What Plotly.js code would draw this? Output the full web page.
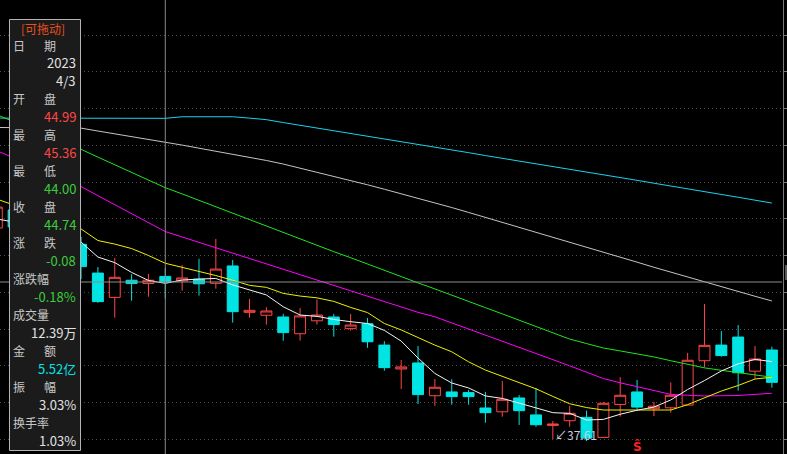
<!DOCTYPE html>
<html><head><meta charset="utf-8">
<script src="https://cdn.plot.ly/plotly-3.0.1.min.js"></script>
<style>html,body{margin:0;padding:0;background:#000;}#chart{width:787px;height:454px;}</style>
</head><body><div id="chart"></div>
<script>
// ---------- data ----------
const dates = ["2023-03-20","2023-03-21","2023-03-22","2023-03-23","2023-03-24","2023-03-27","2023-03-28","2023-03-29","2023-03-30","2023-03-31",
"2023-04-03","2023-04-04","2023-04-06","2023-04-07","2023-04-10","2023-04-11","2023-04-12","2023-04-13","2023-04-14","2023-04-17",
"2023-04-18","2023-04-19","2023-04-20","2023-04-21","2023-04-24","2023-04-25","2023-04-26","2023-04-27","2023-04-28","2023-05-04",
"2023-05-05","2023-05-08","2023-05-09","2023-05-10","2023-05-11","2023-05-12","2023-05-15","2023-05-16","2023-05-17","2023-05-18",
"2023-05-19","2023-05-22","2023-05-23","2023-05-24","2023-05-25","2023-05-26","2023-05-29"];
const openP = [47.16,47.97,47.30,46.62,46.98,46.43,45.14,44.05,44.82,44.67,
44.99,44.79,44.87,44.68,45.46,43.38,43.25,43.17,42.42,43.00,
43.17,42.65,42.87,41.91,40.84,41.11,39.64,39.81,39.78,39.09,
38.92,39.54,38.78,38.31,38.52,38.67,37.77,39.25,39.81,39.06,
39.10,39.22,41.21,41.91,42.27,40.74,41.69];
const highP = [48.42,48.19,47.52,47.16,47.16,46.76,45.41,45.82,45.09,45.10,
45.36,45.50,45.78,46.67,45.73,43.98,43.61,43.31,43.57,43.96,
43.31,43.31,43.13,42.09,41.24,41.87,40.39,40.38,39.90,39.81,
40.30,39.67,39.99,38.51,39.19,38.97,39.36,40.47,40.35,39.37,
40.24,41.56,43.75,42.54,42.81,41.87,41.84];
const lowP = [46.98,47.07,46.62,46.44,46.17,44.87,43.81,43.14,43.90,44.08,
44.00,44.35,44.13,44.44,42.92,43.14,42.83,42.11,42.11,42.83,
42.29,42.56,41.79,40.76,39.94,39.27,39.19,39.24,39.24,38.43,
38.70,38.33,38.25,37.69,38.25,37.61,37.76,38.70,39.03,38.73,
38.88,39.20,40.92,41.39,39.87,40.40,40.00];
const closeP = [48.10,47.21,46.80,46.98,46.35,45.43,43.86,44.95,44.67,44.82,
44.74,44.92,44.66,45.32,43.41,43.47,43.44,42.47,43.22,43.26,
42.83,42.81,42.06,40.90,40.93,39.69,40.02,39.60,39.60,38.88,
39.48,38.97,38.34,38.37,38.85,37.74,39.30,39.66,39.13,39.17,
39.66,41.23,41.90,41.44,40.67,41.29,40.24];
const ma5 = [47.57,47.43,47.21,46.98,46.76,46.53,45.86,45.61,45.17,44.81,
44.68,44.83,44.87,44.90,44.61,44.38,44.16,43.63,43.26,43.20,
43.06,42.96,42.88,42.57,42.09,41.33,40.64,40.21,39.99,39.63,
39.52,39.31,39.08,38.88,38.85,38.55,38.58,38.81,38.99,39.13,
39.45,39.92,40.32,40.75,41.07,41.27,41.17];
const ma10 = [48.46,48.19,47.92,47.65,47.39,47.12,46.60,46.44,46.24,45.93,
45.58,45.40,45.24,45.03,44.82,44.59,44.50,44.23,44.11,44.03,
43.87,43.60,43.37,42.88,42.59,42.25,41.91,41.61,41.16,40.79,
40.50,40.23,39.95,39.61,39.28,39.11,39.00,39.00,39.00,39.00,
39.00,39.24,39.54,39.85,40.10,40.39,40.47];
const ma20 = [50.63,50.31,49.99,49.67,49.35,49.02,48.61,48.21,47.81,47.40,
47.00,46.76,46.52,46.28,46.04,45.79,45.55,45.31,45.07,44.83,
44.59,44.35,44.10,43.86,43.62,43.38,43.18,42.91,42.64,42.37,
42.10,41.82,41.54,41.26,40.98,40.70,40.41,40.22,40.04,39.86,
39.70,39.66,39.63,39.64,39.65,39.70,39.75];
const ma60 = [52.24,51.93,51.62,51.31,51.00,50.69,50.34,50.00,49.66,49.31,
48.97,48.69,48.40,48.10,47.81,47.52,47.23,46.94,46.66,46.38,
46.10,45.83,45.54,45.26,44.98,44.70,44.43,44.14,43.87,43.59,
43.31,43.03,42.74,42.47,42.18,41.98,41.78,41.65,41.52,41.38,
41.21,41.04,40.89,40.78,40.68,40.57,40.47];
const ma120 = [51.67,51.66,51.66,51.65,51.65,51.64,51.51,51.39,51.27,51.14,
51.02,50.88,50.74,50.61,50.47,50.33,50.19,50.03,49.85,49.67,
49.49,49.31,49.10,48.90,48.70,48.49,48.29,48.08,47.86,47.64,
47.42,47.20,46.98,46.76,46.54,46.31,46.09,45.86,45.63,45.40,
45.18,44.95,44.73,44.52,44.31,44.10,43.89];
const ma250 = [52.09,52.09,52.09,52.09,52.09,52.09,52.08,52.08,52.08,52.08,
52.08,52.15,52.15,52.15,52.15,52.09,52.02,51.89,51.77,51.65,
51.52,51.40,51.28,51.15,51.03,50.91,50.78,50.66,50.54,50.41,
50.29,50.17,50.05,49.92,49.80,49.67,49.55,49.43,49.30,49.17,
49.05,48.92,48.79,48.66,48.54,48.41,48.28];

const selDate = "2023-04-03";
const infoYear = "2023";
const infoDay = "4/3";
const changeTxt = "-0.08";
const changePctTxt = "-0.18%";
const volumeTxt = "12.39万";
const amountTxt = "5.52亿";
const amplitudeTxt = "3.03%";
const turnoverTxt = "1.03%";
const lowMarkTxt = "↙37.61";
const signalTxt = "Ŝ";
const dragTxt = "[可拖动]";

// ---------- styling ----------
const RED = "#ff4646", CYAN = "#00e4e4", GREEN = "#3ccd3c";
const LBL = "#c8c8c8", VAL = "#e2e2e2";
const FONT = "'Noto Sans CJK SC', 'Noto Sans', sans-serif";
const PW = 783, PH = 454;
const px = x => x / PW;
const py = y => 1 - y / PH;

const sel = dates.indexOf(selDate);
const lowIdx = lowP.indexOf(Math.min(...lowP));

const traces = [
  {type:"candlestick", x:dates, open:openP, high:highP, low:lowP, close:closeP,
   increasing:{line:{color:RED, width:1}, fillcolor:"#000000"},
   decreasing:{line:{color:CYAN, width:1}, fillcolor:CYAN},
   whiskerwidth:0, hoverinfo:"skip", showlegend:false},
  {type:"scatter", mode:"lines", x:dates, y:ma250, line:{color:"#19d2f0", width:1}, hoverinfo:"skip", showlegend:false},
  {type:"scatter", mode:"lines", x:dates, y:ma120, line:{color:"#c4c4c4", width:1}, hoverinfo:"skip", showlegend:false},
  {type:"scatter", mode:"lines", x:dates, y:ma60, line:{color:"#1ee61e", width:1}, hoverinfo:"skip", showlegend:false},
  {type:"scatter", mode:"lines", x:dates, y:ma20, line:{color:"#ff00ff", width:1}, hoverinfo:"skip", showlegend:false},
  {type:"scatter", mode:"lines", x:dates, y:ma10, line:{color:"#f0f000", width:1}, hoverinfo:"skip", showlegend:false},
  {type:"scatter", mode:"lines", x:dates, y:ma5, line:{color:"#f4f4f4", width:1}, hoverinfo:"skip", showlegend:false}
];

// info panel rows
const f2 = v => v.toFixed(2);
const rows = [
  {lab:"日期"}, {val:infoYear, c:VAL}, {val:infoDay, c:VAL},
  {lab:"开盘"}, {val:f2(openP[sel]), c:RED},
  {lab:"最高"}, {val:f2(highP[sel]), c:RED},
  {lab:"最低"}, {val:f2(lowP[sel]), c:GREEN},
  {lab:"收盘"}, {val:f2(closeP[sel]), c:GREEN},
  {lab:"涨跌"}, {val:changeTxt, c:GREEN},
  {lab:"涨跌幅"}, {val:changePctTxt, c:GREEN},
  {lab:"成交量"}, {val:volumeTxt, c:VAL},
  {lab:"金额"}, {val:amountTxt, c:CYAN},
  {lab:"振幅"}, {val:amplitudeTxt, c:VAL},
  {lab:"换手率"}, {val:turnoverTxt, c:VAL}
];
const annotations = [];
annotations.push({xref:"paper", yref:"paper", x:px(43), y:py(29), text:dragTxt, showarrow:false,
  xanchor:"center", yanchor:"middle", font:{family:FONT, size:12, color:"#e8501e"}});
rows.forEach((r, i) => {
  const yy = py(45 + 17.99 * i);
  if (r.lab) {
    if (r.lab.length === 2) {
      annotations.push({xref:"paper", yref:"paper", x:px(11), y:yy, text:r.lab[0], showarrow:false, xanchor:"left", yanchor:"middle", font:{family:FONT, size:12, color:LBL}});
      annotations.push({xref:"paper", yref:"paper", x:px(42), y:yy, text:r.lab[1], showarrow:false, xanchor:"left", yanchor:"middle", font:{family:FONT, size:12, color:LBL}});
    } else {
      annotations.push({xref:"paper", yref:"paper", x:px(11), y:yy, text:r.lab, showarrow:false, xanchor:"left", yanchor:"middle", font:{family:FONT, size:12, color:LBL}});
    }
  } else {
    annotations.push({xref:"paper", yref:"paper", x:px(78), y:yy, text:r.val, showarrow:false, xanchor:"right", yanchor:"middle", font:{family:FONT, size:13, color:r.c}});
  }
});
annotations.push({xref:"x", yref:"y", x:lowIdx, y:lowP[lowIdx], text:lowMarkTxt, showarrow:false,
  xanchor:"right", yanchor:"middle", xshift:12, yshift:7, font:{family:FONT, size:12, color:"#c8d0e0"}});
annotations.push({xref:"x", yref:"paper", x:sel + 28, y:py(446), text:"<b>"+signalTxt+"</b>", showarrow:false,
  xanchor:"center", yanchor:"middle", font:{family:"DejaVu Sans", size:12, color:"#ff2020"}});

const shapes = [
  {type:"line", xref:"x", yref:"paper", x0:sel, x1:sel, y0:0, y1:1, line:{color:"#8c8c8c", width:1}, layer:"above"},
  {type:"line", xref:"paper", yref:"y", x0:0, x1:px(782), y0:closeP[sel], y1:closeP[sel], line:{color:"#8c8c8c", width:1}, layer:"above"},
  {type:"rect", xref:"paper", yref:"paper", x0:px(9.5), x1:px(80.5), y0:py(450.5), y1:py(19.5), fillcolor:"#1b1b1b", line:{color:"#b4b4b4", width:1}, layer:"above"},
  {type:"rect", xref:"paper", yref:"paper", x0:px(785), x1:px(788), y0:py(280), y1:py(265), fillcolor:"#5a5a5a", line:{width:0}, layer:"above"}
];

const layout = {
  width:787, height:454,
  margin:{l:0, r:4, t:0, b:0, pad:0},
  paper_bgcolor:"#000000", plot_bgcolor:"#000000",
  showlegend:false,
  boxgap:0.35, boxgroupgap:0,
  xaxis:{type:"category", range:[0.19, 46.66], showgrid:false, showticklabels:false, zeroline:false,
    showline:false, ticks:"", rangeslider:{visible:false}, fixedrange:true},
  yaxis:{side:"right", range:[37.027, 57.386], tickmode:"linear", tick0:55.816, dtick:1.648,
    showgrid:true, gridcolor:"#4c4c4c", griddash:"1px,3px", gridwidth:1,
    showticklabels:false, ticks:"outside", ticklen:4, tickcolor:"#7a7a7a", tickwidth:1,
    showline:true, linecolor:"#7a7a7a", linewidth:1, zeroline:false, fixedrange:true},
  shapes:shapes,
  annotations:annotations
};

Plotly.newPlot("chart", traces, layout, {displayModeBar:false, staticPlot:true});
</script></body></html>
